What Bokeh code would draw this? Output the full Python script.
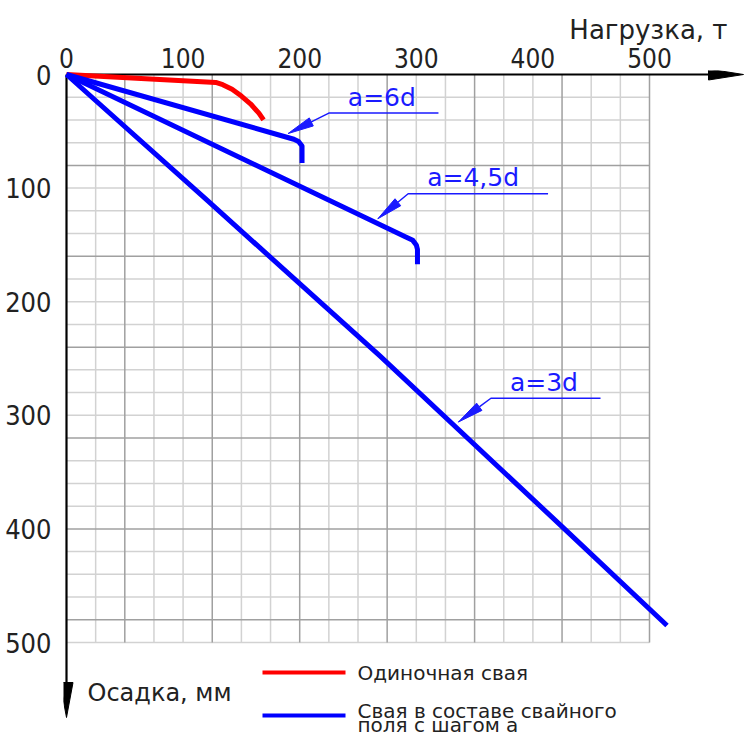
import numpy as np
from bokeh.plotting import figure
from bokeh.models import Range1d, FixedTicker
from bokeh.core.properties import value
from bokeh.embed import file_html
from bokeh.resources import INLINE

# ---------------- data (load, t  /  settlement, mm) ----------------
single_load = [0, 128, 134, 142, 150, 158, 165, 169]
single_settle = [0, 7, 9, 13, 19, 26, 34, 40]

a6_load = [0, 195, 199, 202, 202]
a6_settle = [0, 57, 59, 63, 78]

a45_load = [0, 291, 297, 300, 301, 301]
a45_settle = [0, 143, 146, 150, 154, 167]

a3_load = [0, 121, 269, 425, 515]
a3_settle = [0, 111, 248, 398, 485]

x_ticks = [0, 100, 200, 300, 400, 500]
y_ticks = [0, 100, 200, 300, 400, 500]

ann_labels = ["a=6d", "a=4,5d", "a=3d"]
ann_tip_x = [190, 267, 336]
ann_tip_y = [52, 127, 306]
ann_shelf_x0 = [225, 293, 364]
ann_shelf_x1 = [319, 413, 458]
ann_shelf_y = [34, 105, 285]

legend_labels = ["Одиночная свая", "Свая в составе свайного", "поля с шагом a"]
x_title = "Нагрузка, т"
y_title = "Осадка, мм"

# ---------------- geometry (canvas px) ----------------
W, H = 745, 738
KX = 583 / 500.0   # px per t
KY = 568 / 500.0   # px per mm
OX, OY = 66, 74    # canvas px of the origin
FL, FR, FT, FB = 63, W, 70, H
TXT_SHIFT = 8      # text glyph baseline correction (px)


def sx(px):
    return (px - OX) / KX


def sy(py):
    return (py - OY) / KY


x_range = Range1d(sx(FL), sx(FR))
y_range = Range1d(sy(FB), sy(FT))

p = figure(width=W, height=H, x_range=x_range, y_range=y_range,
           output_backend="svg", toolbar_location=None, title=x_title,
           title_location="above",
           x_axis_location="above", y_axis_location="left",
           min_border_left=FL, min_border_right=0,
           min_border_top=FT, min_border_bottom=0)
p.outline_line_color = None
p.xgrid.visible = False
p.ygrid.visible = False
p.background_fill_color = "white"
p.border_fill_color = "white"

NUM_FONT = "DejaVu Sans Condensed, DejaVu Sans, sans-serif"
TXT_FONT_NAME = "DejaVu Sans"
TXT_FONT = value(TXT_FONT_NAME)
TXT_COLOR = "#222222"

p.title.align = "right"
p.title.offset = 18
p.title.standoff = 0
p.title.text_font = TXT_FONT_NAME
p.title.text_font_size = "26px"
p.title.text_font_style = "normal"
p.title.text_color = TXT_COLOR

for ax in p.xaxis:
    ax.ticker = FixedTicker(ticks=x_ticks)
    ax.axis_line_color = None
    ax.major_tick_line_color = None
    ax.minor_tick_line_color = None
    ax.major_tick_out = 0
    ax.major_label_standoff = 3
    ax.major_label_text_font = NUM_FONT
    ax.major_label_text_font_size = "26px"
    ax.major_label_text_color = TXT_COLOR
for ax in p.yaxis:
    ax.ticker = FixedTicker(ticks=y_ticks)
    ax.axis_line_color = None
    ax.major_tick_line_color = None
    ax.minor_tick_line_color = None
    ax.major_tick_out = 0
    ax.major_label_standoff = 12
    ax.major_label_text_font = NUM_FONT
    ax.major_label_text_font_size = "27px"
    ax.major_label_text_color = TXT_COLOR

# ---------------- grid (0..500 only) ----------------
gx = np.arange(25, 525, 25)
gy = np.arange(20, 520, 20)
dark_x = set(range(50, 525, 75))
dark_y = set(range(80, 520, 80))
lx = [v for v in gx if v not in dark_x]
dx = [v for v in gx if v in dark_x]
ly = [v for v in gy if v not in dark_y]
dy = [v for v in gy if v in dark_y]
p.segment(x0=lx, y0=0, x1=lx, y1=500, line_color="#d2d2d2", line_width=1.5)
p.segment(x0=0, y0=ly, x1=500, y1=ly, line_color="#d2d2d2", line_width=1.5)
p.segment(x0=dx, y0=0, x1=dx, y1=500, line_color="#a0a0a0", line_width=1.5)
p.segment(x0=0, y0=dy, x1=500, y1=dy, line_color="#a0a0a0", line_width=1.5)

# ---------------- axes with arrows ----------------
x_tip = sx(743)
y_tip = sy(717)
p.segment(x0=0, y0=0, x1=x_tip - 20 / KX, y1=0, line_color="black", line_width=2.2)
p.segment(x0=0, y0=0, x1=0, y1=y_tip - 20 / KY, line_color="black", line_width=2.2)
p.patch([x_tip, x_tip - 35 / KX, x_tip - 35 / KX], [0, -5.5 / KY, 5.5 / KY], color="black")
p.patch([0, -6.5 / KX, 6.5 / KX], [y_tip, y_tip - 35 / KY, y_tip - 35 / KY], color="black")

# ---------------- curves ----------------
RED, BLUE = "#ff0000", "#0000ff"
p.line(single_load, single_settle, line_color=RED, line_width=5, line_join="round")
p.line(a6_load, a6_settle, line_color=BLUE, line_width=5, line_join="round")
p.line(a45_load, a45_settle, line_color=BLUE, line_width=5, line_join="round")
p.line(a3_load, a3_settle, line_color=BLUE, line_width=5, line_join="round")

# ---------------- leaders ----------------
ANN = "#1a1aff"
heads_x, heads_y, leads_x, leads_y, tx, ty = [], [], [], [], [], []
for lab, txp, typ, sx0, sx1, shy in zip(ann_labels, ann_tip_x, ann_tip_y,
                                        ann_shelf_x0, ann_shelf_x1, ann_shelf_y):
    vx, vy = (sx0 - txp) * KX, (shy - typ) * KY
    n = np.hypot(vx, vy)
    ux, uy = vx / n, vy / n
    L, w = 26, 4.5
    bx, by = ux * L, uy * L
    nx, ny = -uy * w, ux * w
    heads_x.append([txp, txp + (bx + nx) / KX, txp + (bx - nx) / KX])
    heads_y.append([typ, typ + (by + ny) / KY, typ + (by - ny) / KY])
    leads_x.append([txp + bx / KX, sx0, sx1])
    leads_y.append([typ + by / KY, shy, shy])
    tx.append(sx0 + 19 / KX)
    ty.append(shy - (8 + TXT_SHIFT) / KY)
p.patches(heads_x, heads_y, fill_color=ANN, line_color=ANN, line_width=1)
p.multi_line(leads_x, leads_y, line_color=ANN, line_width=1.5)
p.text(x=tx, y=ty, text=ann_labels, text_font=TXT_FONT, text_font_size="25px",
       text_color=ANN, text_baseline="alphabetic", text_align="left")

# ---------------- y title ----------------
p.text(x=[sx(87)], y=[sy(700 - TXT_SHIFT)], text=[y_title],
       text_font=TXT_FONT, text_font_size="24px", text_color=TXT_COLOR,
       text_baseline="alphabetic", text_align="left")

# ---------------- legend ----------------
lg_x0, lg_x1 = sx(262), sx(345)
lg_tx = sx(357)
p.segment(x0=[lg_x0], y0=[sy(672)], x1=[lg_x1], y1=[sy(672)], line_color=RED, line_width=4)
p.segment(x0=[lg_x0], y0=[sy(715)], x1=[lg_x1], y1=[sy(715)], line_color=BLUE, line_width=4)
p.text(x=[lg_tx] * 3,
       y=[sy(680 - TXT_SHIFT), sy(718 - TXT_SHIFT), sy(732 - TXT_SHIFT)],
       text=legend_labels, text_font=TXT_FONT, text_font_size="20px",
       text_color=TXT_COLOR, text_baseline="alphabetic", text_align="left")

open("out.html", "w").write(file_html(p, INLINE))
